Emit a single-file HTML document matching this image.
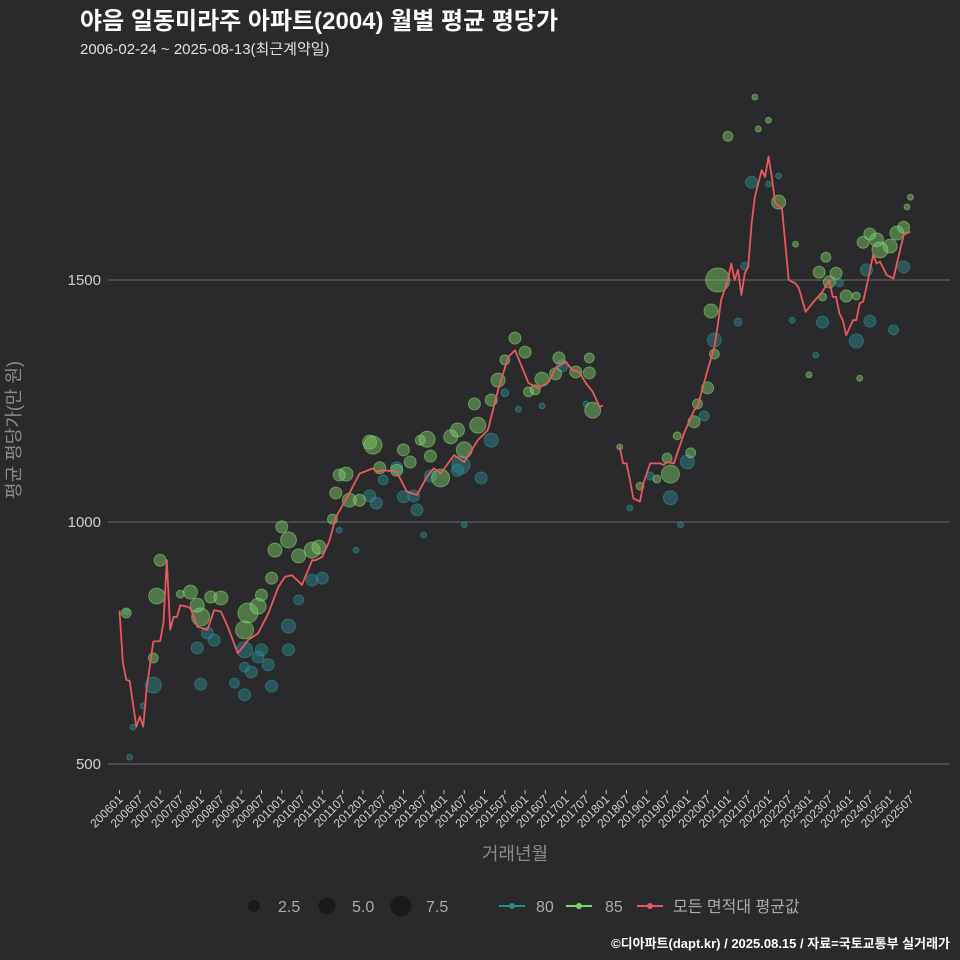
<!DOCTYPE html>
<html><head><meta charset="utf-8">
<style>
html,body{margin:0;padding:0;background:#2a2a2c;}
svg{display:block;font-family:"Liberation Sans","Noto Sans CJK KR",sans-serif;}
</style></head>
<body>
<svg id="chart" width="960" height="960" viewBox="0 0 960 960">
<rect x="0" y="0" width="960" height="960" fill="#2a2a2c"/>
<text x="80" y="29" fill="#ffffff" font-size="24" font-weight="bold">야음 일동미라주 아파트(2004) 월별 평균 평당가</text>
<text x="80" y="54" fill="#e0e0e0" font-size="15">2006-02-24 ~ 2025-08-13(최근계약일)</text>
<text transform="translate(20,430) rotate(-90)" text-anchor="middle" fill="#8a8a8a" font-size="18">평균 평당가(만 원)</text>
<text x="515" y="860" text-anchor="middle" fill="#8a8a8a" font-size="18">거래년월</text>
<g id="grid"></g>
<g id="yticks"></g>
<g id="xticks"></g>
<g id="bubbles"></g>
<g id="line"></g>
<g id="legend">
  <circle cx="254" cy="906" r="6" fill="#1a1a1c"/>
  <text x="278" y="912" fill="#aaa" font-size="16">2.5</text>
  <circle cx="327" cy="906" r="8.5" fill="#1a1a1c"/>
  <text x="352" y="912" fill="#aaa" font-size="16">5.0</text>
  <circle cx="401" cy="906" r="10.5" fill="#1a1a1c"/>
  <text x="426" y="912" fill="#aaa" font-size="16">7.5</text>
  <line x1="499" y1="906" x2="525" y2="906" stroke="#2a8a90" stroke-width="2"/>
  <circle cx="512" cy="906" r="3" fill="#2a8a90"/>
  <text x="536" y="912" fill="#aaa" font-size="16">80</text>
  <line x1="566" y1="906" x2="592" y2="906" stroke="#7fd36b" stroke-width="2"/>
  <circle cx="579" cy="906" r="3" fill="#7fd36b"/>
  <text x="605" y="912" fill="#aaa" font-size="16">85</text>
  <line x1="637" y1="906" x2="663" y2="906" stroke="#e05a5f" stroke-width="2"/>
  <circle cx="650" cy="906" r="3" fill="#e05a5f"/>
  <text x="673" y="912" fill="#aaa" font-size="16">모든 면적대 평균값</text>
</g>
<text x="950" y="948" text-anchor="end" fill="#ffffff" font-size="13" font-weight="bold">©디아파트(dapt.kr) / 2025.08.15 / 자료=국토교통부 실거래가</text>
</svg>
<script>
// month index = months since 2006-01
const yTicks = [500, 1000, 1500];
const lineMonths = [0,1,2,3,5,6,7,8,10,12,13,14,15,16,17,18,20,21,23,26,28,30,32,35,37,38,41,44,47,49,51,54,57,58,60,62,64,68,71,75,76,78,82,85,88,91,93,95,99,102,106,109,112,115,117,121,124,127,129,132,134,136,138,140,142,143,
148,149,150,151,152,154,155,157,160,161,162,164,167,170,171,174,176,177,178,180,181,182,183,184,185,186,187,188,189,190,191,192,193,194,196,198,200,201,203,205,208,210,211,212,213,214,215,217,218,219,220,221,223,224,225,227,229,230,232,234];
const lineValues = [817,709,674,672,577,598,577,653,753,754,791,921,777,804,804,828,825,822,784,777,818,815,784,729,746,756,770,811,866,887,890,870,921,921,928,959,1010,1059,1100,1111,1104,1107,1104,1063,1056,1094,1111,1100,1138,1124,1169,1190,1273,1341,1355,1287,1276,1290,1318,1331,1314,1310,1287,1269,1238,1241,
1156,1121,1121,1087,1049,1042,1080,1121,1121,1118,1124,1121,1183,1231,1238,1314,1362,1407,1459,1500,1534,1500,1521,1469,1514,1527,1617,1672,1700,1727,1713,1755,1713,1658,1648,1500,1493,1483,1434,1452,1476,1500,1465,1465,1431,1417,1386,1417,1417,1452,1455,1486,1552,1534,1538,1510,1503,1534,1593,1600];
const g85Months = [2,12,11,10,18,21,24,23,27,30,37,38,41,42,45,46,48,50,53,57,59,63,64,65,67,68,71,74,75,77,82,84,86,89,91,92,95,98,100,102,105,106,110,112,114,117,120,121,123,125,129,130,135,139,139,140,148,154,159,162,163,169,165,170,171,174,176,175,177,180,188,192,195,200,207,209,210,212,215,218,220,222,224,225,228,230,232,234,233,219,204,208,189];
const g85Values = [812,921,847,719,851,855,804,828,845,843,777,812,826,849,884,942,990,963,930,942,948,1006,1060,1097,1099,1045,1045,1165,1159,1112,1107,1149,1124,1169,1171,1136,1091,1176,1190,1149,1244,1200,1252,1293,1335,1380,1351,1269,1273,1295,1306,1339,1310,1339,1308,1231,1155,1074,1089,1132,1099,1143,1178,1207,1244,1277,1347,1436,1500,1797,1878,1830,1661,1574,1516,1547,1496,1514,1467,1467,1578,1595,1583,1562,1570,1597,1609,1671,1651,1297,1304,1465,1812];
const g85Sizes = [1.7,2.5,4.4,1.7,1.1,3.4,5.6,3.4,2.5,3.4,5.6,6.9,4.4,2.5,2.5,3.4,2.5,4.4,3.4,4.4,3.4,1.7,2.5,2.5,3.4,3.4,2.5,3.4,5.6,2.5,2.5,2.5,2.5,1.7,4.4,2.5,5.6,3.4,3.4,4.4,2.5,4.4,2.5,3.4,1.7,2.5,2.5,1.7,1.7,3.4,2.5,2.5,2.5,1.7,2.5,4.4,0.6,1.1,1.1,1.7,5.6,1.7,1.1,2.5,1.7,2.5,1.7,3.4,10,1.7,0.6,0.6,3.4,0.6,2.5,1.7,2.5,2.5,2.5,1.1,2.5,2.5,3.4,4.4,3.4,3.4,2.5,0.6,0.6,0.6,0.6,1.1,0.6];
const g80Months = [3,2,4,7,10,23,24,26,28,34,37,37,39,41,42,44,45,37,50,50,53,57,60,65,70,74,76,78,82,84,87,88,92,101,100,107,110,114,118,125,131,138,151,157,163,168,173,176,183,185,187,192,199,206,208,218,222,229,232,221,213,195,166,102,90];
const g80Values = [514,814,576,620,663,740,665,771,756,667,700,643,690,721,736,705,661,736,785,736,839,880,884,983,942,1054,1039,1087,1112,1052,1054,1025,1095,1118,1107,1091,1169,1267,1233,1240,1323,1244,1029,1095,1050,1124,1219,1376,1413,1529,1702,1698,1417,1345,1413,1374,1415,1397,1527,1521,1494,1715,994,994,973];
const g80Sizes = [0.6,0.6,0.6,0.6,4.4,2.5,2.5,2.5,2.5,1.7,1.7,2.5,2.5,2.5,2.5,2.5,2.5,4.4,3.4,2.5,1.7,2.5,2.5,0.6,0.6,2.5,2.5,1.7,2.5,2.5,2.5,2.5,2.5,5.6,2.5,2.5,3.4,1.1,0.6,0.6,2.5,0.6,0.6,1.1,3.4,3.4,1.7,3.4,1.1,1.1,2.5,0.6,0.6,0.6,2.5,3.4,2.5,1.7,2.5,2.5,1.1,0.6,0.6,0.6,0.6];

const NS = 'http://www.w3.org/2000/svg';
const X0 = 119.5, PXM = 3.38, Y500 = 764, PXV = 0.484;
function xScale(m){ return X0 + m * PXM; }
function yScale(v){ return Y500 - (v - 500) * PXV; }
function rScale(s){ return 3.8 * Math.sqrt(s); }
function mk(tag, attrs, parent){ const e = document.createElementNS(NS, tag); for (const k in attrs) e.setAttribute(k, attrs[k]); parent.appendChild(e); return e; }

const grid = document.getElementById('grid');
const yt = document.getElementById('yticks');
yTicks.forEach(v => {
  const l = mk('line', {x1: 108, x2: 950, y1: yScale(v), y2: yScale(v), stroke: '#6a6a6a', 'stroke-width': 1}, grid);
  
  
  const t = mk('text', {x: 101, y: yScale(v) + 5, 'text-anchor': 'end', fill: '#cfcfcf', 'font-size': 15}, yt);
  t.textContent = v;
  
  
});

const xt = document.getElementById('xticks');
for (let i = 0; i <= 234; i += 6) {
  const yr = 2006 + Math.floor(i / 12), mo = (i % 12) + 1;
  const lab = yr + (mo < 10 ? '0' : '') + mo;
  const x = xScale(i);
  const tk = mk('line', {x1: x, x2: x, y1: 790, y2: 794, stroke: '#bbbbbb', 'stroke-width': 1}, xt);
  
  
  const t = mk('text', {x: x + 4, y: 800, 'text-anchor': 'end', fill: '#d0d0d0', 'font-size': 12, transform: 'rotate(-45 ' + (x + 4) + ' 800)'}, xt);
  t.textContent = lab;
  
  
}

const bub = document.getElementById('bubbles');
function drawBubbles(ms, vs, ss, fill, stroke, name){
  ms.forEach((m, i) => {
    const c = mk('circle', {cx: xScale(m), cy: yScale(vs[i]), r: rScale(ss[i]), fill: fill, 'fill-opacity': 0.45, stroke: stroke, 'stroke-opacity': 0.5, 'stroke-width': 1}, bub);
    
    
  });
}
drawBubbles(g80Months, g80Values, g80Sizes, '#2a8a90', '#2f9aa0', 'bubble-80');
drawBubbles(g85Months, g85Values, g85Sizes, '#7fd36b', '#8fe07a', 'bubble-85');

const lg = document.getElementById('line');
let seg = [];
const segs = [];
lineMonths.forEach((m, i) => {
  if (i > 0 && m - lineMonths[i - 1] > 4) { segs.push(seg); seg = []; }
  seg.push(xScale(m).toFixed(1) + ',' + yScale(lineValues[i]).toFixed(1));
});
segs.push(seg);
segs.forEach((s, k) => {
  const p = mk('polyline', {points: s.join(' '), fill: 'none', stroke: '#e8585e', 'stroke-width': 1.8, 'stroke-linejoin': 'round'}, lg);
  
  
});
</script>
</body></html>
